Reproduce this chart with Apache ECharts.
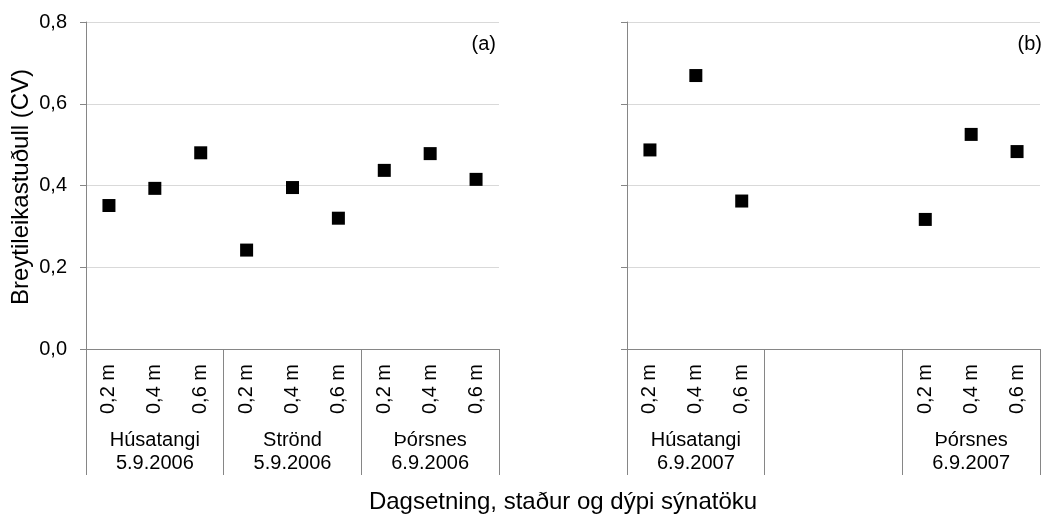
<!DOCTYPE html>
<html>
<head>
<meta charset="utf-8">
<script src="https://cdn.jsdelivr.net/npm/echarts@6.0.0/dist/echarts.min.js"></script>
<style>
html,body{margin:0;padding:0;background:#fff;}
#chart{width:1045px;height:514px;}
</style>
</head>
<body>
<div id="chart"></div>
<script>
// ---- data ----
const depthCatsA = ['0,2 m','0,4 m','0,6 m','0,2 m','0,4 m','0,6 m','0,2 m','0,4 m','0,6 m'];
const groupsA = ['Húsatangi\n5.9.2006','Strönd\n5.9.2006','Þórsnes\n6.9.2006'];
const valuesA = [0.351, 0.393, 0.480, 0.242, 0.395, 0.320, 0.437, 0.478, 0.415];

const depthCatsB = ['0,2 m','0,4 m','0,6 m','','','','0,2 m','0,4 m','0,6 m'];
const groupsB = ['Húsatangi\n6.9.2007','','Þórsnes\n6.9.2007'];
const valuesB = [0.487, 0.669, 0.362, null, null, null, 0.317, 0.525, 0.483];

const yTickLabels = ['0,0','0,2','0,4','0,6','0,8'];
const panelLabels = ['(a)','(b)'];
const yTitle = 'Breytileikastuðull (CV)';
const xTitle = 'Dagsetning, staður og dýpi sýnatöku';

// ---- styles ----
const FONT = "'Liberation Sans', Arial, sans-serif";
const AXIS_COLOR = '#868686';
const GRID_COLOR = '#d9d9d9';

function toPairs(vals){
  const out = [];
  vals.forEach((v,i)=>{ if(v!==null) out.push([i,v]); });
  return out;
}

const chart = echarts.init(document.getElementById('chart'), null, {renderer:'canvas'});

function depthAxis(gridIndex, cats){
  return {
    type:'category', gridIndex, position:'bottom', data:cats, boundaryGap:true,
    axisLine:{show:true, lineStyle:{color:AXIS_COLOR, width:1}},
    axisTick:{show:false},
    axisLabel:{rotate:90, margin:15, color:'#000', fontSize:20, fontFamily:FONT, interval:0},
    splitLine:{show:false}
  };
}
function groupAxis(gridIndex, groups){
  return {
    type:'category', gridIndex, position:'bottom', data:groups, boundaryGap:true,
    axisLine:{show:false},
    axisTick:{show:true, length:126, interval:0, lineStyle:{color:AXIS_COLOR, width:1}},
    axisLabel:{margin:80, color:'#000', fontSize:20, lineHeight:23, fontFamily:FONT, interval:0, align:'center'},
    splitLine:{show:false}
  };
}
function valueAxis(gridIndex, showLabels){
  return {
    type:'value', gridIndex, min:0, max:0.8, interval:0.2,
    axisLine:{show:true, lineStyle:{color:AXIS_COLOR, width:1}},
    axisTick:{show:true, length:6, lineStyle:{color:AXIS_COLOR}},
    axisLabel:{show:showLabels, margin:19, color:'#000', fontSize:20, fontFamily:FONT,
      formatter:(v)=> yTickLabels[Math.round(v/0.2)]},
    splitLine:{show:true, lineStyle:{color:GRID_COLOR, width:1}}
  };
}

const option = {
  animation:false,
  backgroundColor:'#fff',
  grid:[
    {left:86, top:22, width:413, height:327},
    {left:627, top:22, width:413, height:327}
  ],
  xAxis:[
    depthAxis(0, depthCatsA),
    groupAxis(0, groupsA),
    depthAxis(1, depthCatsB),
    groupAxis(1, groupsB)
  ],
  yAxis:[ valueAxis(0, true), valueAxis(1, false) ],
  series:[
    {type:'scatter', xAxisIndex:0, yAxisIndex:0, data:toPairs(valuesA),
     symbol:'rect', symbolSize:13, itemStyle:{color:'#000', opacity:1}},
    {type:'scatter', xAxisIndex:2, yAxisIndex:1, data:toPairs(valuesB),
     symbol:'rect', symbolSize:13, itemStyle:{color:'#000', opacity:1}}
  ],
  graphic:[
    {type:'text', right:1045-496, top:34, style:{text:panelLabels[0], fill:'#000', font:'20px '+FONT}},
    {type:'text', right:3, top:34, style:{text:panelLabels[1], fill:'#000', font:'20px '+FONT}},
    {type:'text', x:21, y:187, rotation:Math.PI/2,
     style:{text:yTitle, fill:'#000', font:'24px '+FONT, textAlign:'center', textVerticalAlign:'middle'}},
    {type:'text', x:563, y:502,
     style:{text:xTitle, fill:'#000', font:'24px '+FONT, textAlign:'center', textVerticalAlign:'middle'}}
  ]
};
chart.setOption(option);
</script>
</body>
</html>
